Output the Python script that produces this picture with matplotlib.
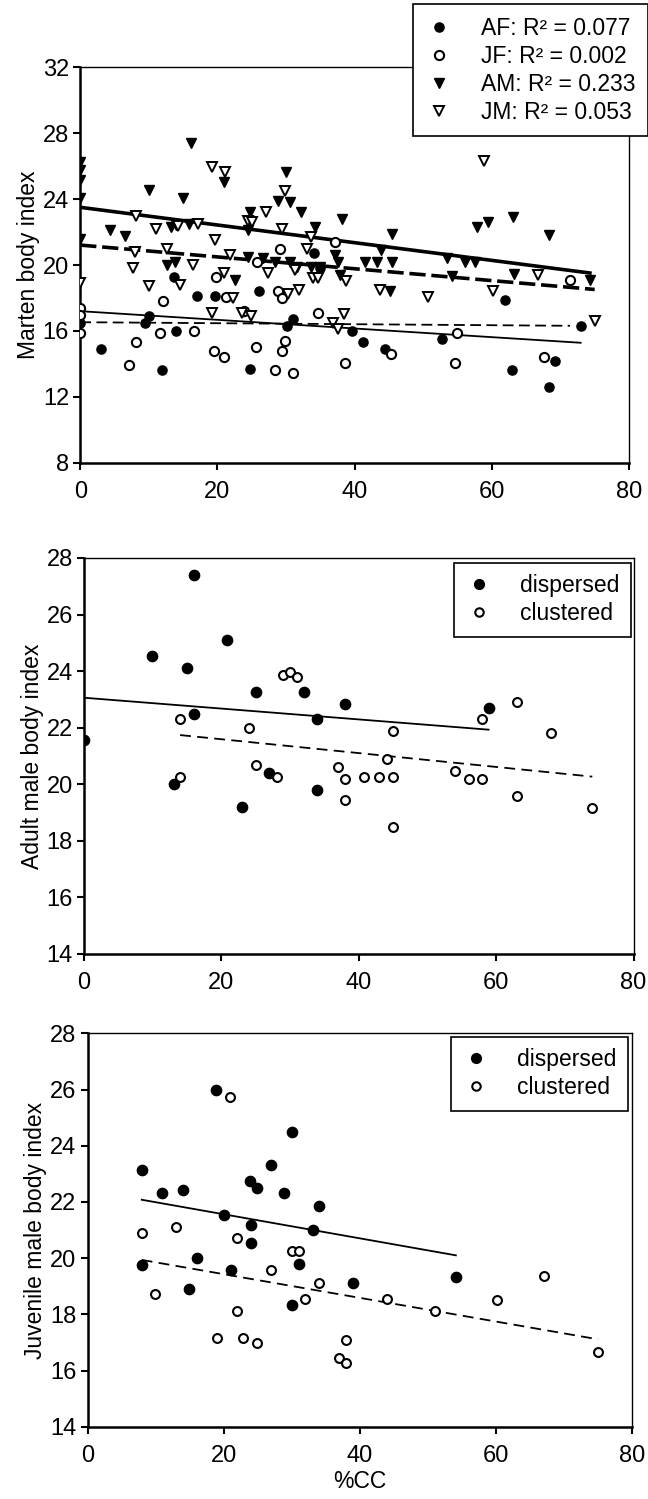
import numpy as np
import matplotlib
matplotlib.use("Agg")
import matplotlib.pyplot as plt

plt.rcParams['font.family'] = ['Liberation Sans', 'DejaVu Sans']

# ---------------- Panel 1 data: Marten body index vs %CC ----------------
af_x = [0, 3.0, 9.4, 10.0, 11.9, 13.7, 14.0, 17.0, 19.65, 24.75, 26.0, 30.1, 31.0,
        34.1, 35.0, 39.6, 41.2, 44.4, 52.7, 61.9, 63.0, 68.4, 69.2, 72.95]
af_y = [16.5, 14.9, 16.5, 16.9, 13.65, 19.3, 16.0, 18.1, 18.1, 13.7, 18.4, 16.3, 16.75,
        20.7, 19.8, 16.0, 15.3, 14.9, 15.5, 17.9, 13.6, 12.6, 14.2, 16.3]

jf_x = [0, 0, 0, 7.1, 8.1, 11.7, 12.0, 16.6, 19.5, 19.75, 20.9, 21.25, 23.9, 25.6, 25.7,
        28.4, 28.9, 29.1, 29.4, 29.4, 29.85, 31.0, 34.7, 37.1, 38.6, 45.3, 54.6, 54.9,
        67.6, 71.4]
jf_y = [17.4, 16.95, 15.9, 13.9, 15.3, 15.9, 17.8, 16.0, 14.8, 19.3, 14.4, 18.06, 17.2, 15.0, 20.2,
        13.6, 18.4, 21.0, 17.97, 14.8, 15.4, 13.45, 17.1, 21.4, 14.05, 14.6, 14.05, 15.9,
        14.4, 19.1]

am_x = [0, 0, 0, 0, 0, 4.3, 6.5, 10.0, 12.6, 13.3, 13.8, 14.0, 15.0, 15.9, 16.2, 21.0,
        22.6, 24.4, 24.75, 24.4, 26.7, 28.4, 28.9, 29.95, 30.6, 30.6, 31.6, 32.2, 33.7,
        35.0, 34.2, 37.1, 37.6, 37.8, 38.1, 41.5, 43.2, 43.9, 45.2, 45.4, 45.4, 53.4,
        54.2, 56.1, 57.6, 57.8, 59.5, 63.1, 63.3, 68.4, 74.3]
am_y = [26.26, 25.75, 25.15, 24.04, 21.6, 22.1, 21.75, 24.55, 20.0, 22.3, 20.2, 22.4, 24.04,
        22.5, 27.4, 25.05, 19.1, 22.1, 23.2, 20.5, 20.4, 20.2, 23.9, 25.66, 23.8, 20.2, 19.9,
        23.2, 19.9, 19.9, 22.3, 20.6, 20.2, 19.4, 22.8, 20.2, 20.2, 20.9, 18.4, 21.9, 20.2,
        20.45, 19.35, 20.2, 20.2, 22.3, 22.6, 22.9, 19.45, 21.8, 19.1]

jm_x = [0, 7.7, 8.0, 8.2, 10.0, 11.05, 12.6, 14.3, 14.55, 16.5, 17.2, 19.2, 19.2, 19.65,
        20.9, 21.1, 21.8, 22.3, 23.6, 24.5, 24.9, 25.0, 27.1, 27.4, 29.4, 29.85, 30.3,
        31.3, 31.9, 33.0, 33.6, 33.9, 34.7, 36.9, 37.6, 38.45, 38.7, 43.7, 50.7, 58.8,
        60.2, 66.8, 75.0]
jm_y = [18.9, 19.8, 20.8, 23.0, 18.7, 22.2, 21.0, 22.35, 18.8, 20.0, 22.5, 25.96, 17.1, 21.5,
        19.5, 25.66, 20.6, 17.97, 17.1, 22.7, 16.9, 22.6, 23.2, 19.5, 22.2, 24.5, 18.27,
        19.7, 18.5, 21.0, 21.7, 19.2, 19.2, 16.45, 16.1, 17.05, 19.0, 18.5, 18.06, 26.3,
        18.4, 19.4, 16.6]

p1_labels = ["AF: R\u00b2 = 0.077", "JF: R\u00b2 = 0.002",
             "AM: R\u00b2 = 0.233", "JM: R\u00b2 = 0.053"]

# ---------------- Panel 2 data: Adult males ----------------
adm_disp_x = [0, 9.9, 13.05, 15.0, 16.0, 16.0, 20.9, 23.0, 25.0, 26.9, 32.0, 34.0, 34.0,
              38.0, 58.9]
adm_disp_y = [21.55, 24.55, 20.0, 24.1, 27.4, 22.5, 25.1, 19.18, 23.26, 20.4, 23.26, 22.3,
              19.8, 22.85, 22.7]
adm_clus_x = [14.0, 24.0, 29.0, 30.0, 31.0, 25.0, 14.0, 28.1, 37.0, 38.0, 40.8, 43.0, 45.0,
              44.1, 45.0, 54.0, 56.1, 57.9, 57.9, 63.0, 68.0, 38.0, 45.0, 63.0, 74.0]
adm_clus_y = [22.3, 22.0, 23.88, 23.96, 23.79, 20.67, 20.24, 20.26, 20.6, 20.2, 20.24, 20.24,
              20.24, 20.9, 21.9, 20.47, 20.2, 20.2, 22.3, 22.9, 21.8, 19.45, 18.5, 19.6, 19.15]

# ---------------- Panel 3 data: Juvenile males ----------------
juv_disp_x = [7.95, 11.0, 14.0, 18.9, 20.0, 23.85, 24.95, 27.0, 28.9, 30.0, 34.0, 24.0,
              24.0, 33.1, 7.95, 16.0, 21.0, 14.9, 30.0, 31.0, 39.0, 54.1]
juv_disp_y = [23.15, 22.33, 22.44, 26.0, 21.53, 22.76, 22.5, 23.33, 22.3, 24.5, 21.85, 21.18,
              20.55, 21.0, 19.77, 20.0, 19.58, 18.9, 18.33, 19.79, 19.11, 19.32]
juv_clus_x = [20.9, 7.95, 13.05, 22.0, 30.0, 31.0, 9.9, 19.0, 21.9, 22.9, 24.9, 27.0, 32.0,
              34.0, 37.0, 38.0, 38.0, 44.0, 51.0, 60.2, 67.1, 75.0]
juv_clus_y = [25.74, 20.9, 21.1, 20.7, 20.25, 20.25, 18.74, 17.16, 18.1, 17.16, 16.98, 19.56,
              18.56, 19.12, 16.46, 17.1, 16.25, 18.56, 18.1, 18.5, 19.38, 16.65]

group_labels = ["dispersed", "clustered"]
x_ticks = [0, 20, 40, 60, 80]

W, H = 648, 1499
fig = plt.figure(figsize=(W / 100, H / 100), dpi=100)

TICK_FS = 17
LAB_FS = 16.5
LEG_FS = 16.5


def style_axes(ax, yticks):
    ax.set_xlim(0, 80)
    ax.set_ylim(yticks[0], yticks[-1])
    ax.set_xticks(x_ticks)
    ax.set_yticks(yticks)
    ax.tick_params(direction='out', length=5, width=1.5, labelsize=TICK_FS,
                   top=False, right=False, pad=3)
    ax.tick_params(axis='x', pad=8)
    for s in ['left', 'bottom']:
        ax.spines[s].set_linewidth(1.8)
    for s in ['top', 'right']:
        ax.spines[s].set_linewidth(1.0)


def fit_line(ax, x, y, **kw):
    x = np.asarray(x, float)
    y = np.asarray(y, float)
    b, a = np.polyfit(x, y, 1)
    xs = np.array([x.min(), x.max()])
    ax.plot(xs, a + b * xs, color='black', zorder=2, **kw)


# ---------------- Panel 1 ----------------
ax1 = fig.add_axes([80.2 / W, 1 - 462.7 / H, (629 - 80.2) / W, (462.7 - 67.3) / H])
style_axes(ax1, [8, 12, 16, 20, 24, 28, 32])
ms = 6.6
h_af, = ax1.plot(af_x, af_y, 'o', ms=ms, mfc='black', mec='black', ls='none', zorder=3)
h_jf, = ax1.plot(jf_x, jf_y, 'o', ms=ms, mfc='white', mec='black', mew=1.5, ls='none', zorder=3)
h_am, = ax1.plot(am_x, am_y, 'v', ms=ms + 0.9, mfc='black', mec='black', ls='none', zorder=3)
h_jm, = ax1.plot(jm_x, jm_y, 'v', ms=ms + 0.7, mfc='white', mec='black', mew=1.4, ls='none', zorder=3)
fit_line(ax1, af_x, af_y, lw=1.3)
fit_line(ax1, jf_x, jf_y, lw=1.3, dashes=(6, 3))
fit_line(ax1, am_x, am_y, lw=2.6)
fit_line(ax1, jm_x, jm_y, lw=2.6, dashes=(4.5, 1.6))
ax1.set_ylabel("Marten body index", fontsize=LAB_FS, labelpad=2)
leg1 = fig.legend([h_af, h_jf, h_am, h_jm], p1_labels, loc='upper left',
                  bbox_to_anchor=(413 / W, 1 - 4 / H), frameon=True, fancybox=False,
                  edgecolor='black', framealpha=1, fontsize=LEG_FS, handlelength=1.2,
                  handletextpad=1.2, labelspacing=0.22, borderpad=0.55, borderaxespad=0,
                  markerscale=1.0)
leg1.get_frame().set_linewidth(1.2)

# ---------------- Panel 2 ----------------
ax2 = fig.add_axes([83.9 / W, 1 - 954 / H, (633.5 - 83.9) / W, (954 - 558) / H])
style_axes(ax2, [14, 16, 18, 20, 22, 24, 26, 28])
ms2 = 7.4
h_d2, = ax2.plot(adm_disp_x, adm_disp_y, 'o', ms=ms2, mfc='black', mec='black', ls='none', zorder=3)
h_c2, = ax2.plot(adm_clus_x, adm_clus_y, 'o', ms=ms2 - 1, mfc='white', mec='black', mew=1.5,
                 ls='none', zorder=3)
fit_line(ax2, adm_disp_x, adm_disp_y, lw=1.3)
fit_line(ax2, adm_clus_x, adm_clus_y, lw=1.3, dashes=(6, 3.5))
ax2.set_ylabel("Adult male body index", fontsize=LAB_FS, labelpad=2)
leg2 = fig.legend([h_d2, h_c2], group_labels, loc='upper right',
                  bbox_to_anchor=(631 / W, 1 - 563 / H), frameon=True, fancybox=False,
                  edgecolor='black', framealpha=1, fontsize=LEG_FS, handlelength=1.2,
                  handletextpad=1.2, labelspacing=0.2, borderpad=0.5, borderaxespad=0,
                  markerscale=0.95)
leg2.get_frame().set_linewidth(1.2)

# ---------------- Panel 3 ----------------
ax3 = fig.add_axes([87.6 / W, 1 - 1426.7 / H, (632.2 - 87.6) / W, (1426.7 - 1033.3) / H])
style_axes(ax3, [14, 16, 18, 20, 22, 24, 26, 28])
h_d3, = ax3.plot(juv_disp_x, juv_disp_y, 'o', ms=ms2, mfc='black', mec='black', ls='none', zorder=3)
h_c3, = ax3.plot(juv_clus_x, juv_clus_y, 'o', ms=ms2 - 1, mfc='white', mec='black', mew=1.5,
                 ls='none', zorder=3)
fit_line(ax3, juv_disp_x, juv_disp_y, lw=1.3)
fit_line(ax3, juv_clus_x, juv_clus_y, lw=1.3, dashes=(6, 3.5))
ax3.set_ylabel("Juvenile male body index", fontsize=LAB_FS, labelpad=2)
ax3.set_xlabel("%CC", fontsize=LAB_FS, labelpad=2)
leg3 = fig.legend([h_d3, h_c3], group_labels, loc='upper right',
                  bbox_to_anchor=(628 / W, 1 - 1037 / H), frameon=True, fancybox=False,
                  edgecolor='black', framealpha=1, fontsize=LEG_FS, handlelength=1.2,
                  handletextpad=1.2, labelspacing=0.2, borderpad=0.5, borderaxespad=0,
                  markerscale=0.95)
leg3.get_frame().set_linewidth(1.2)

fig.savefig("out.png", dpi=100)
